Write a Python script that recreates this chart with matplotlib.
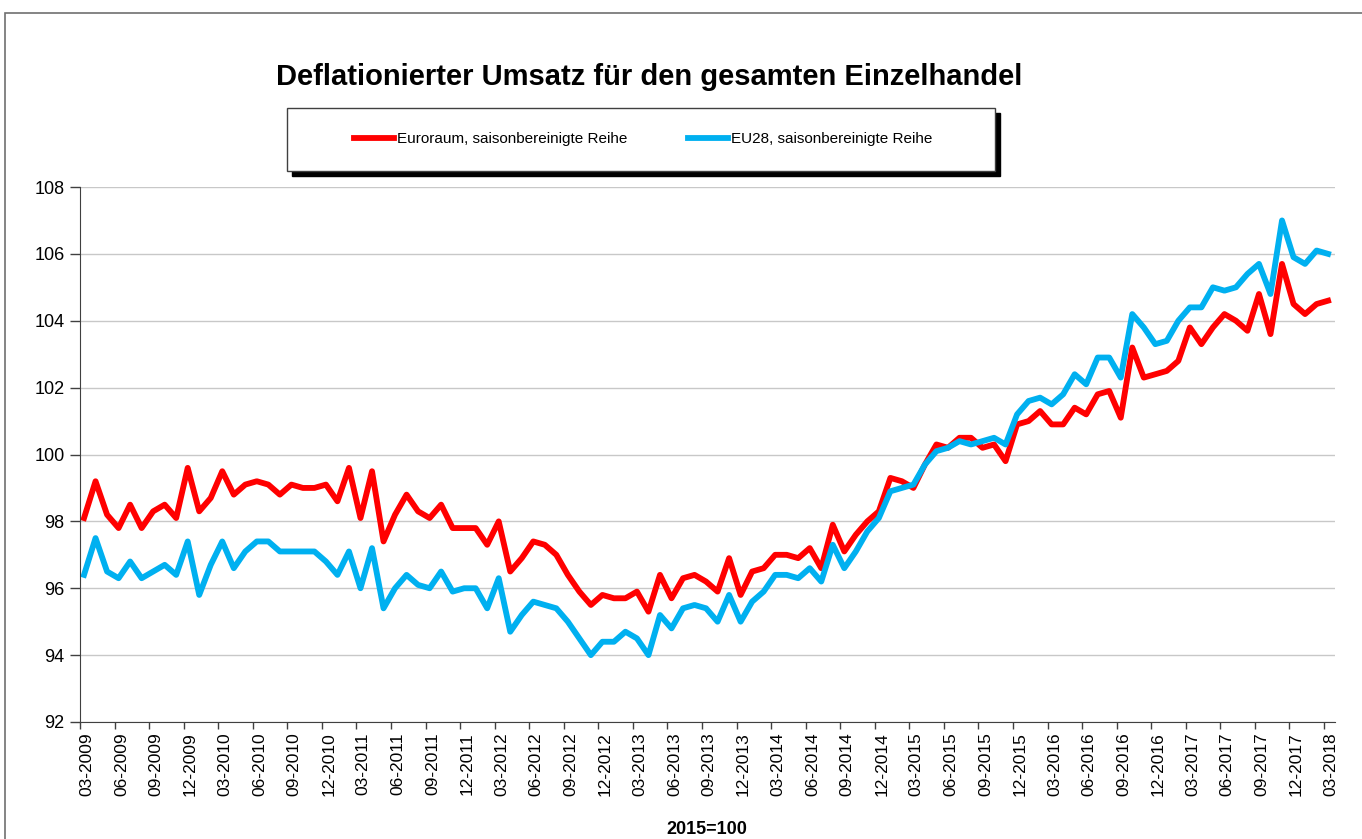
# Deflationierter Umsatz - Einzelhandel, Euroraum vs EU28 (2015=100)
import pandas as pd
import matplotlib
matplotlib.use("Agg")
import matplotlib.pyplot as plt
from matplotlib.patches import Rectangle

plt.rcParams['font.family'] = ['Liberation Sans', 'DejaVu Sans']

# monthly values 03-2009 .. 03-2018
months = pd.date_range('2009-03-01', periods=109, freq='MS')

euroraum = [98.1, 99.2, 98.2, 97.8, 98.5, 97.8, 98.3, 98.5, 98.1, 99.6, 98.3, 98.7, 99.5, 98.8,
            99.1, 99.2, 99.1, 98.8, 99.1, 99.0, 99.0, 99.1, 98.6, 99.6, 98.1, 99.5, 97.4,
            98.2, 98.8, 98.3, 98.1, 98.5, 97.8, 97.8, 97.8, 97.3, 98.0, 96.5, 96.9, 97.4, 97.3,
            97.0, 96.4, 95.9, 95.5, 95.8, 95.7, 95.7, 95.9, 95.3, 96.4, 95.7, 96.3, 96.4,
            96.2, 95.9, 96.9, 95.8, 96.5, 96.6, 97.0, 97.0, 96.9, 97.2, 96.6, 97.9, 97.1,
            97.6, 98.0, 98.3, 99.3, 99.2, 99.0, 99.7, 100.3, 100.2, 100.5, 100.5, 100.2, 100.3,
            99.8, 100.9, 101.0, 101.3, 100.9, 100.9, 101.4, 101.2, 101.8, 101.9, 101.1, 103.2,
            102.3, 102.4, 102.5, 102.8, 103.8, 103.3, 103.8, 104.2, 104.0, 103.7, 104.8, 103.6,
            105.7, 104.5, 104.2, 104.5, 104.6]

eu28 = [96.4, 97.5, 96.5, 96.3, 96.8, 96.3, 96.5, 96.7, 96.4, 97.4, 95.8, 96.7, 97.4, 96.6,
        97.1, 97.4, 97.4, 97.1, 97.1, 97.1, 97.1, 96.8, 96.4, 97.1, 96.0, 97.2, 95.4,
        96.0, 96.4, 96.1, 96.0, 96.5, 95.9, 96.0, 96.0, 95.4, 96.3, 94.7, 95.2, 95.6, 95.5,
        95.4, 95.0, 94.5, 94.0, 94.4, 94.4, 94.7, 94.5, 94.0, 95.2, 94.8, 95.4, 95.5,
        95.4, 95.0, 95.8, 95.0, 95.6, 95.9, 96.4, 96.4, 96.3, 96.6, 96.2, 97.3, 96.6,
        97.1, 97.7, 98.1, 98.9, 99.0, 99.1, 99.7, 100.1, 100.2, 100.4, 100.3, 100.4, 100.5,
        100.3, 101.2, 101.6, 101.7, 101.5, 101.8, 102.4, 102.1, 102.9, 102.9, 102.3, 104.2,
        103.8, 103.3, 103.4, 104.0, 104.4, 104.4, 105.0, 104.9, 105.0, 105.4, 105.7, 104.8,
        107.0, 105.9, 105.7, 106.1, 106.0]

tick_pos = list(range(0, 109, 3))
tick_labels = [months[i].strftime('%m-%Y') for i in tick_pos]
y_ticks = list(range(92, 109, 2))

fig = plt.figure(figsize=(13.62, 8.39), dpi=100)
W, H = 1362, 839

# outer frame
fig.patches.append(Rectangle((5 / W, -0.1), 1.2, 1 - 13 / H + 0.1, transform=fig.transFigure,
                             fill=False, edgecolor='#707070', linewidth=1.2))

ax = fig.add_axes([80 / W, 1 - 722 / H, 1255 / W, 535 / H])
x = list(range(len(months)))
ax.plot(x, euroraum, color='#FF0000', linewidth=4.2, solid_joinstyle='round')
ax.plot(x, eu28, color='#00B0F0', linewidth=4.2, solid_joinstyle='round')

ax.set_xlim(-0.35, 108.6)
ax.set_ylim(92, 108)
ax.set_yticks(y_ticks)
ax.set_yticklabels([str(v) for v in y_ticks], fontsize=13)

# tick marks sit a bit left of the points, labels sit on the points (Excel style)
ax.set_xticks([p - 0.35 for p in tick_pos])
ax.set_xticklabels([])
ax.set_xticks([p + 0.25 for p in tick_pos], minor=True)
ax.set_xticklabels(tick_labels, minor=True, rotation=90, fontsize=12.5)
ax.tick_params(axis='x', which='major', length=5, width=1, color='#404040', direction='out')
ax.tick_params(axis='x', which='minor', length=0, pad=7.5)
ax.tick_params(axis='y', length=7, width=1, color='#404040', direction='out', pad=4)
ax.grid(axis='y', color='#C8C8C8', linewidth=1)
ax.set_axisbelow(True)
for s in ['top', 'right']:
    ax.spines[s].set_visible(False)
for s in ['left', 'bottom']:
    ax.spines[s].set_color('#404040')

fig.text(649 / W, 1 - 77 / H, 'Deflationierter Umsatz für den gesamten Einzelhandel',
         ha='center', va='center', fontsize=21, fontweight='bold')
fig.text(707 / W, 1 - 829 / H, '2015=100', ha='center', va='center',
         fontsize=13, fontweight='bold')

# legend box with black shadow
bx0, by0, bx1, by1 = 287, 108, 995, 171
fig.patches.append(Rectangle(((bx0 + 5) / W, 1 - (by1 + 5) / H), (bx1 - bx0) / W, (by1 - by0) / H,
                             transform=fig.transFigure, facecolor='black', edgecolor='black'))
fig.patches.append(Rectangle((bx0 / W, 1 - by1 / H), (bx1 - bx0) / W, (by1 - by0) / H,
                             transform=fig.transFigure, facecolor='white', edgecolor='#404040',
                             linewidth=1))
handles = ax.get_lines()
fig.legend(handles, ['Euroraum, saisonbereinigte Reihe', 'EU28, saisonbereinigte Reihe'],
           loc='center', bbox_to_anchor=(643 / W, 1 - 139 / H), ncol=2, frameon=False,
           fontsize=11, handlelength=2.6, handletextpad=0.2, columnspacing=4.0)

fig.savefig('out.png', dpi=100)
